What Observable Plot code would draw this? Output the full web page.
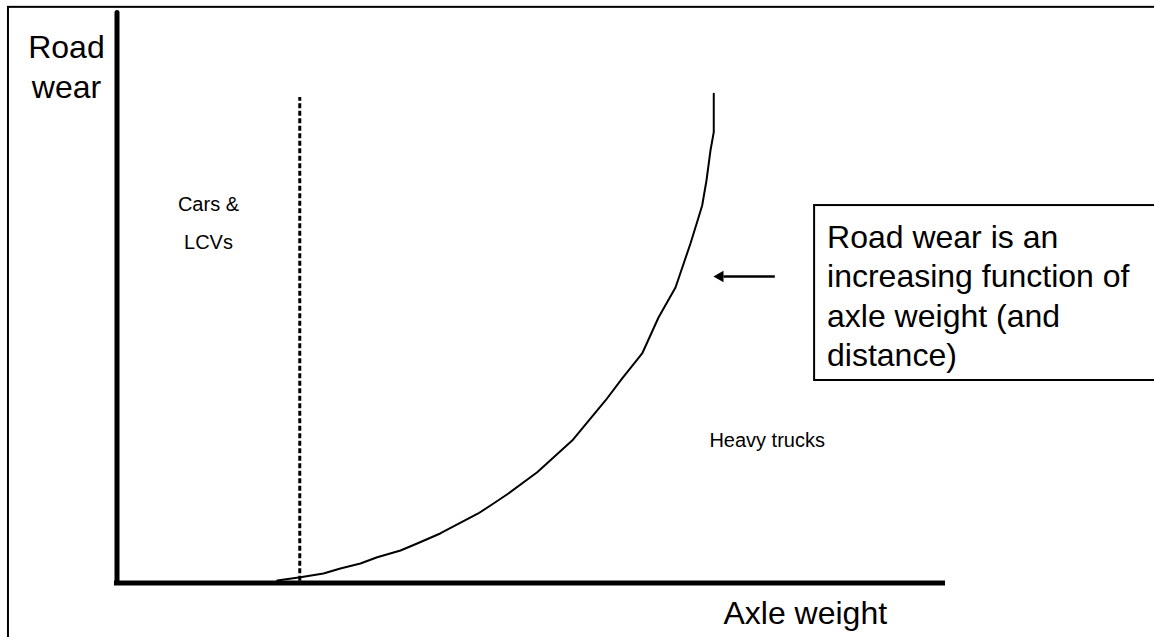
<!DOCTYPE html>
<html>
<head>
<meta charset="utf-8">
<script src="https://cdn.jsdelivr.net/npm/d3@7"></script>
<script src="https://cdn.jsdelivr.net/npm/@observablehq/plot@0.6"></script>
<style>
  html, body { margin: 0; padding: 0; background: #fff; }
  #chart svg { display: block; }
</style>
</head>
<body>
<div id="chart"></div>
<script>
// Road-wear curve (abstract units: axle weight 0-100, road wear 0-100)
const axleWeight = [19.34, 22.15, 24.92, 26.96, 29.38, 31.41, 34.22, 36.23, 39.01, 43.6, 45.08, 47.25, 50.72, 54.94, 58.96, 60.98, 63.39, 65.36, 67.41, 69.22, 70.19, 70.63, 71.15, 71.63, 72.03, 72.03];
const roadWear   = [0.44, 1.01, 1.65, 2.52, 3.39, 4.49, 5.66, 6.88, 8.62, 12.1, 13.49, 15.58, 19.29, 24.8, 31.77, 35.6, 39.95, 46.21, 51.44, 59.1, 63.63, 65.71, 70.06, 75.28, 78.47, 85.15];

// Threshold between cars/LCVs and heavy trucks
const carsLimit = 22.06;
const carsLimitTop = 84.5;

// Text labels
const yTitle = "Road\nwear";
const xTitle = "Axle weight";
const carsLabel = "Cars &\nLCVs";
const trucksLabel = "Heavy trucks";
const noteText = "Road wear is an\nincreasing function of\naxle weight (and\ndistance)";

const curve = axleWeight.map((x, i) => ({x, y: roadWear[i]}));
const font = "Liberation Sans, Arial, Helvetica, sans-serif";

const chart = Plot.plot({
  width: 1154,
  height: 637,
  marginLeft: 116.5,
  marginRight: 209,
  marginTop: 8,
  marginBottom: 54.5,
  x: {domain: [0, 100], axis: null},
  y: {domain: [0, 100], axis: null},
  style: {background: "#fff", overflow: "visible"},
  marks: [
    // outer picture border (left and top visible)
    Plot.rect([0], {x1: -13.1, x2: 140, y1: -30, y2: 100.2, fill: "none", stroke: "#000", strokeWidth: 2}),
    // threshold dashed line
    Plot.ruleX([carsLimit], {y1: 0.3, y2: carsLimitTop, stroke: "#000", strokeWidth: 3, strokeDasharray: "5,2.5"}),
    // curve
    Plot.line(curve, {x: "x", y: "y", stroke: "#000", strokeWidth: 2, curve: "linear"}),
    // axes
    Plot.ruleX([0], {y1: 0, y2: 99.2, stroke: "#000", strokeWidth: 5, strokeLinecap: "round"}),
    Plot.ruleY([0], {x1: 0, x2: 99.7, stroke: "#000", strokeWidth: 5, strokeLinecap: "square"}),
    // note box
    Plot.rect([0], {x1: 84.2, x2: 130, y1: 35.25, y2: 65.7, fill: "#fff", stroke: "#000", strokeWidth: 2}),
    Plot.text([noteText], {x: 85.7, y: 37.77, text: d => d, textAnchor: "start", lineAnchor: "bottom", lineHeight: 1.234, fontSize: 32, fontFamily: font, fill: "#000"}),
    // arrow
    Plot.link([0], {x1: 79.4, x2: 73.2, y1: 53.35, y2: 53.35, stroke: "#000", strokeWidth: 2.5}),
    Plot.dot([0], {x: 72.8, y: 53.35, symbol: "triangle", r: 4.3, rotate: -90, fill: "#000", stroke: "none"}),
    // labels
    Plot.text([yTitle], {x: -6.1, y: 84.5, text: d => d, textAnchor: "middle", lineAnchor: "bottom", lineHeight: 1.25, fontSize: 32, fontFamily: font, fill: "#000"}),
    Plot.text([xTitle], {x: 73.2, y: -7.05, text: d => d, textAnchor: "start", lineAnchor: "bottom", fontSize: 32, fontFamily: font, fill: "#000"}),
    Plot.text([carsLabel], {x: 11.04, y: 58.1, text: d => d, textAnchor: "middle", lineAnchor: "bottom", lineHeight: 1.9, fontSize: 20, fontFamily: font, fill: "#000"}),
    Plot.text([trucksLabel], {x: 71.5, y: 23.6, text: d => d, textAnchor: "start", lineAnchor: "bottom", fontSize: 20, fontFamily: font, fill: "#000"})
  ]
});
document.getElementById("chart").append(chart);
</script>
</body>
</html>
